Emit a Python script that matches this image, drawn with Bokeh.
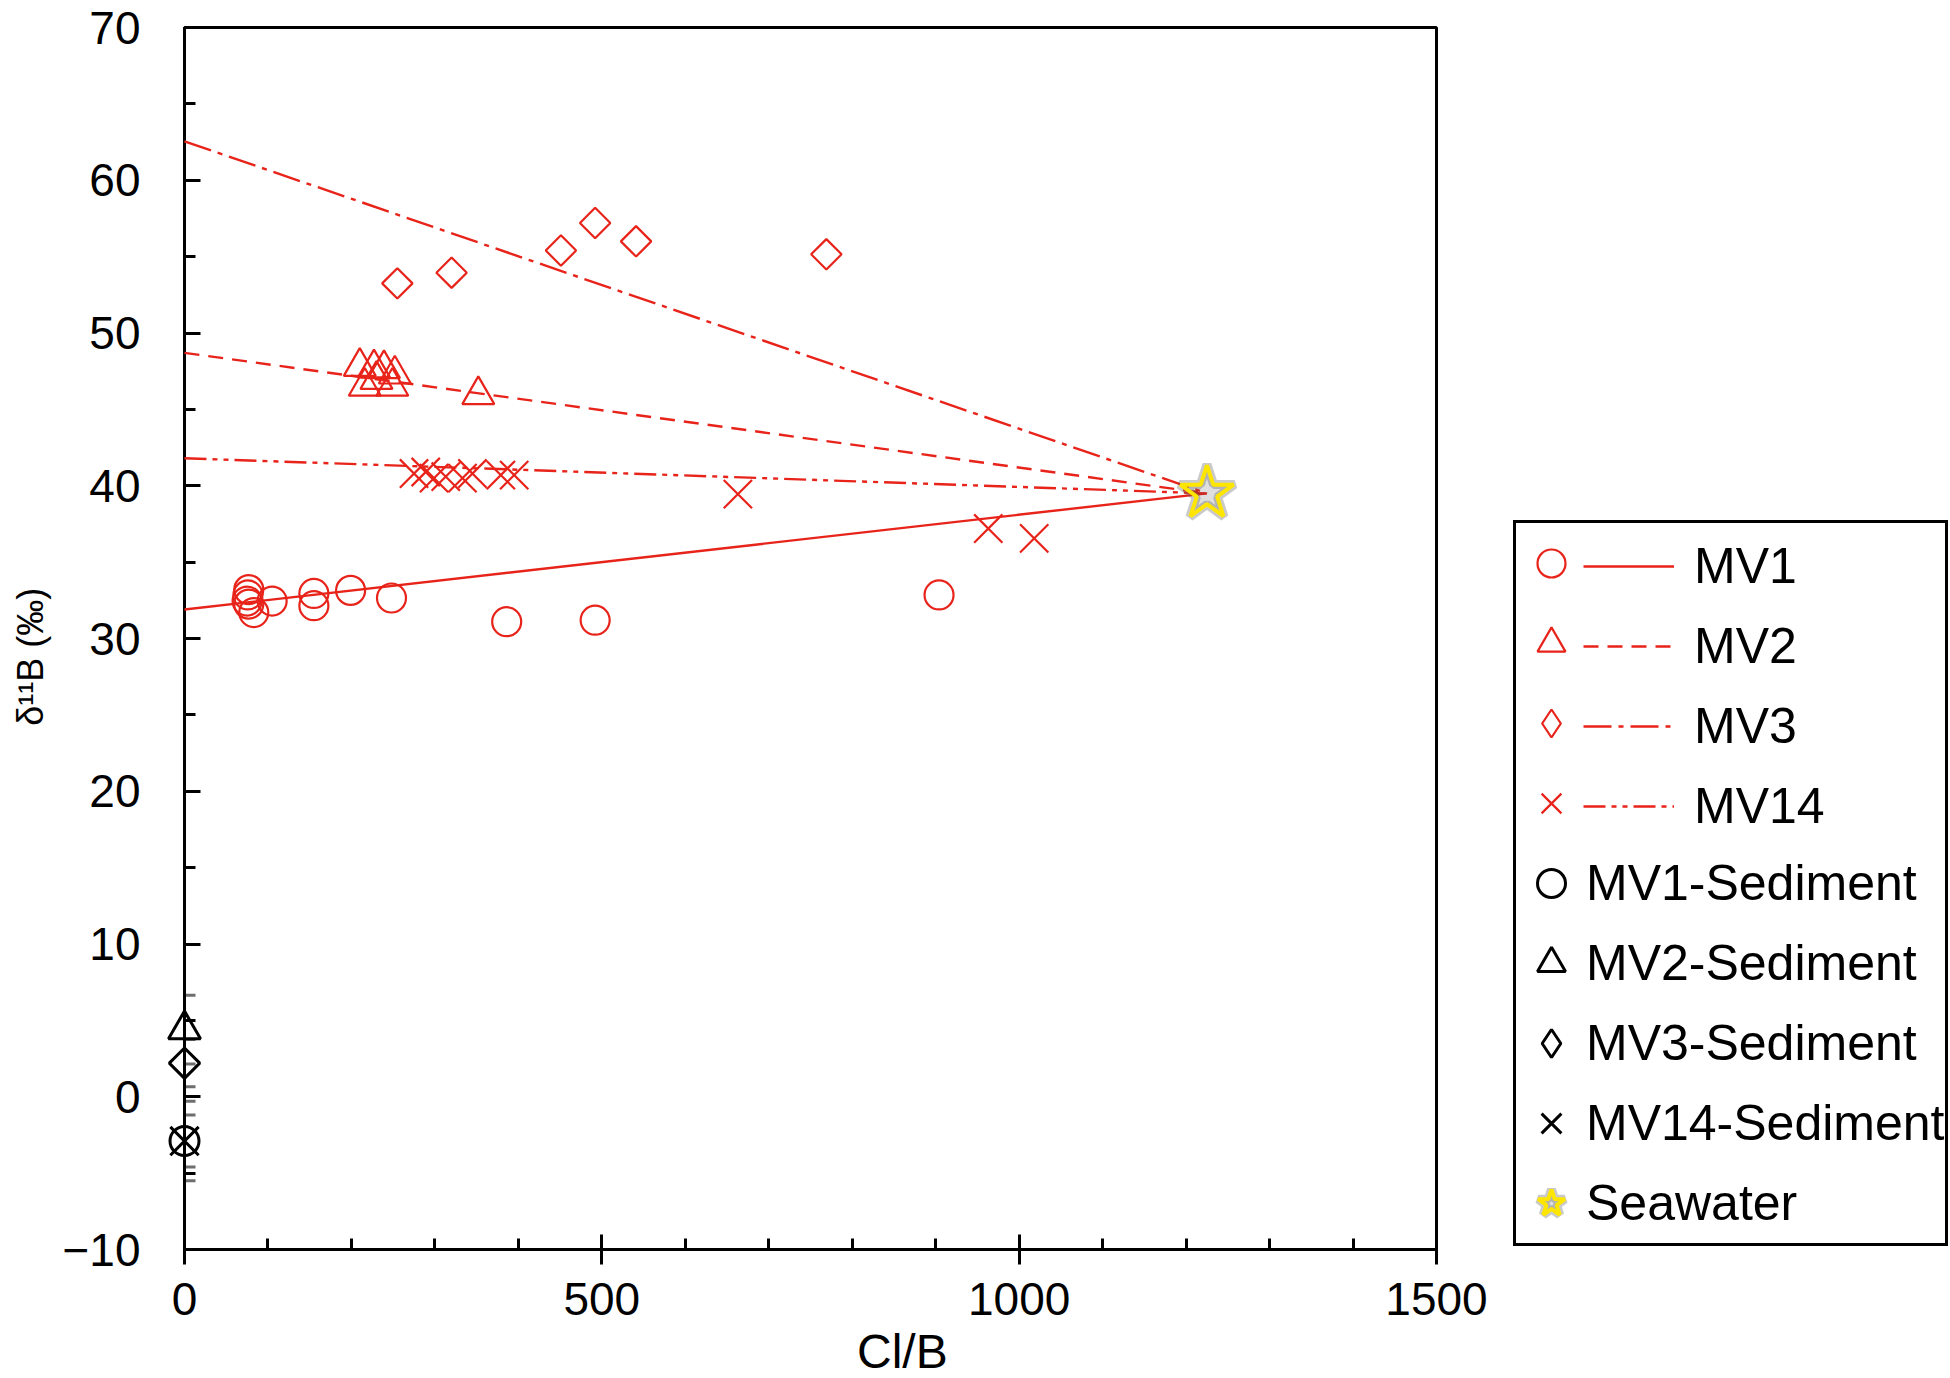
import math
from bokeh.plotting import figure
from bokeh.models import Range1d, SingleIntervalTicker, Legend, LegendItem, Label, GridBox, Column
from bokeh.embed import file_html
from bokeh.resources import INLINE

# ---------------- data ----------------
mv1_x = [77, 76, 75, 77, 83, 105, 155, 155, 199, 248, 386, 492, 904]
mv1_y = [33.2, 32.85, 32.45, 32.25, 31.7, 32.45, 32.95, 32.15, 33.15, 32.65, 31.1, 31.2, 32.85]

mv2_x = [210, 227, 239, 252, 216, 249, 230, 352]
mv2_y = [47.8, 47.7, 47.65, 47.3, 46.5, 46.5, 46.95, 45.95]

mv3_x = [255, 320, 451, 492, 541, 769]
mv3_y = [53.25, 53.95, 55.4, 57.2, 56.0, 55.15]

mv14_x = [275, 289, 299, 313, 333, 345, 379, 395, 663, 963, 1018]
mv14_y = [40.8, 40.9, 40.5, 40.6, 40.5, 40.8, 40.7, 40.7, 39.45, 37.2, 36.55]

sed_names = ["MV1-Sediment", "MV2-Sediment", "MV3-Sediment", "MV14-Sediment"]
sed_x = [0, 0, 0, 0]
sed_y = [-2.9, 4.4, 2.2, -2.9]
sed_err = [2.6, 2.25, 1.55, 1.7]

seawater_x = [1225]
seawater_y = [39.5]

series_names = ["MV1", "MV2", "MV3", "MV14"]
series_x = [mv1_x, mv2_x, mv3_x, mv14_x]
series_y = [mv1_y, mv2_y, mv3_y, mv14_y]
line_intercepts = [31.9, 48.7, 62.55, 41.8]   # mixing lines: value at Cl/B = 0

X_MIN, X_MAX = 0, 1500
Y_MIN, Y_MAX = -10, 70
x_ticks_interval = 500
y_ticks_interval = 10
x_title = "Cl/B"
y_title = "δ¹¹B (‰)"

# ---------------- layout / styles ----------------
W, H = 1950, 1378
F_LEFT, F_RIGHT, F_TOP, F_BOTTOM = 184, 1436, 27, 1249   # frame edges in pixels
RED = "#E8231A"
FONT = "Liberation Sans"
FONT_NUM = "'Liberation Sans Narrow', 'Liberation Sans', sans-serif"
markers = ["circle", "triangle", "square", "x"]
legend_markers = ["circle", "triangle", "diamond", "x"]
marker_sizes = [29, 32, 21.5, 40]
marker_angles = [0, 0, math.pi / 4, 0]
dashes = ["solid", "15 9", "28 7 5 7", "22 6 5 6 5 6"]
NO_DATA = [math.nan]   # legend-only glyphs draw nothing in the plot

# ---------------- base figure: axes and frame ----------------
p = figure(width=W, height=H,
           x_range=Range1d(X_MIN, X_MAX), y_range=Range1d(Y_MIN, Y_MAX),
           output_backend="svg", toolbar_location=None,
           min_border_left=F_LEFT, min_border_right=W - F_RIGHT,
           min_border_top=F_TOP, min_border_bottom=H - F_BOTTOM)
p.grid.visible = False
p.background_fill_color = "white"
p.border_fill_color = "white"
p.outline_line_color = "black"
p.outline_line_width = 3

xa = p.xaxis[0]
xa.ticker = SingleIntervalTicker(interval=x_ticks_interval, num_minor_ticks=5)
xa.major_tick_in = 15
xa.major_tick_out = 15
xa.minor_tick_in = 11
xa.minor_tick_out = 0
xa.major_label_standoff = 18

ya = p.yaxis[0]
ya.ticker = SingleIntervalTicker(interval=y_ticks_interval, num_minor_ticks=2)
ya.major_tick_in = 16
ya.major_tick_out = 0
ya.minor_tick_in = 11
ya.minor_tick_out = 0
ya.major_label_standoff = 44

for ax in (xa, ya):
    ax.axis_line_width = 3
    ax.axis_line_color = "black"
    ax.major_tick_line_width = 3
    ax.minor_tick_line_width = 3
    ax.major_tick_line_color = "black"
    ax.minor_tick_line_color = "black"
    ax.major_label_text_font = FONT_NUM
    ax.major_label_text_font_size = "46px"
    ax.major_label_text_color = "black"

# sediment error bar caps (clipped by the frame; the bars lie on the axis line)
caps_y = [y + e for y, e in zip(sed_y, sed_err)] + [y - e for y, e in zip(sed_y, sed_err)]
p.scatter(x=[0] * len(caps_y), y=caps_y, marker="dash", size=22,
          line_color="#6e6e6e", line_width=3)

# ---------------- transparent overlay figure spanning the whole canvas ----------------
sx = (F_RIGHT - F_LEFT) / (X_MAX - X_MIN)
sy = (F_BOTTOM - F_TOP) / (Y_MAX - Y_MIN)
ov_x = Range1d(X_MIN - F_LEFT / sx, X_MAX + (W - F_RIGHT) / sx)
ov_y = Range1d(Y_MIN - (H - F_BOTTOM) / sy, Y_MAX + F_TOP / sy)
q = figure(width=W, height=H, x_range=ov_x, y_range=ov_y,
           output_backend="svg", toolbar_location=None,
           x_axis_location=None, y_axis_location=None, min_border=0)
q.grid.visible = False
q.background_fill_alpha = 0
q.border_fill_alpha = 0
q.outline_line_alpha = 0

# mixing lines toward seawater
line_renderers = []
for name, b0, dash in zip(series_names, line_intercepts, dashes):
    r = q.line(x=[0, seawater_x[0]], y=[b0, seawater_y[0]],
               line_color=RED, line_width=2.4, line_dash=dash)
    line_renderers.append(r)

# red sample markers
for xs, ys, m, s, a in zip(series_x, series_y, markers, marker_sizes, marker_angles):
    q.scatter(x=xs, y=ys, marker=m, size=s, angle=a,
              line_color=RED, line_width=2.2, fill_color=None)

# black sediment markers
for i, name in enumerate(sed_names):
    q.scatter(x=[sed_x[i]], y=[sed_y[i]], marker=markers[i], size=marker_sizes[i],
              angle=marker_angles[i], line_color="black", line_width=3, fill_color=None)

# seawater star with shadow
r_shadow = q.scatter(x=seawater_x, y=seawater_y, marker="star", size=58,
                     line_color="#505050", line_width=9, line_alpha=0.3,
                     fill_color="#505050", fill_alpha=0.18)
r_star = q.scatter(x=seawater_x, y=seawater_y, marker="star", size=56,
                   line_color="#FFE600", line_width=4, fill_color=None)

# legend sample glyphs (NaN data: they only style the legend entries)
leg_red = [q.scatter(x=NO_DATA, y=NO_DATA, marker=m, line_color=RED, line_width=2.2,
                     fill_color=None) for m in legend_markers]
leg_black = [q.scatter(x=NO_DATA, y=NO_DATA, marker=m, line_color="black", line_width=3,
                       fill_color=None) for m in legend_markers]

# axis titles (placed as in the reference)
q.add_layout(Label(x=860, y=H - 1324, x_units="data", y_units="screen", text=x_title,
                   text_align="center", text_baseline="top",
                   text_font=FONT, text_font_size="48px", text_color="black"))
q.add_layout(Label(x=30, y=28.8, x_units="screen", y_units="data", text=y_title,
                   angle=math.pi / 2, text_align="center", text_baseline="middle",
                   text_font=FONT, text_font_size="36px", text_color="black"))

# legend: markers + sediment labels
items_a = [LegendItem(label=" ", renderers=[r]) for r in leg_red]
items_a += [LegendItem(label=n, renderers=[r]) for n, r in zip(sed_names, leg_black)]
items_a.append(LegendItem(label="Seawater", renderers=[r_shadow, r_star]))
leg_a = Legend(items=items_a, location=(1513, H - 1246), orientation="vertical",
               glyph_width=70, glyph_height=80, spacing=0, padding=0, margin=0,
               label_standoff=0, label_height=80,
               label_text_font=FONT, label_text_font_size="50px", label_text_color="black",
               border_line_color="black", border_line_width=3, border_line_alpha=1.0,
               background_fill_color="white", background_fill_alpha=1.0)
q.add_layout(leg_a)

# legend: line samples + series labels
items_b = [LegendItem(label=n, renderers=[r]) for n, r in zip(series_names, line_renderers)]
leg_b = Legend(items=items_b, location=(1583, H - 1246 + 80 * 5), orientation="vertical",
               glyph_width=91, glyph_height=80, spacing=0, padding=0, margin=0,
               label_standoff=20, label_height=80,
               label_text_font=FONT, label_text_font_size="50px", label_text_color="black",
               border_line_alpha=0, background_fill_alpha=0)
q.add_layout(leg_b)

layout = GridBox(children=[(Column(children=[p]), 0, 0), (Column(children=[q]), 0, 0)])
open("out.html", "w").write(file_html(layout, INLINE))
